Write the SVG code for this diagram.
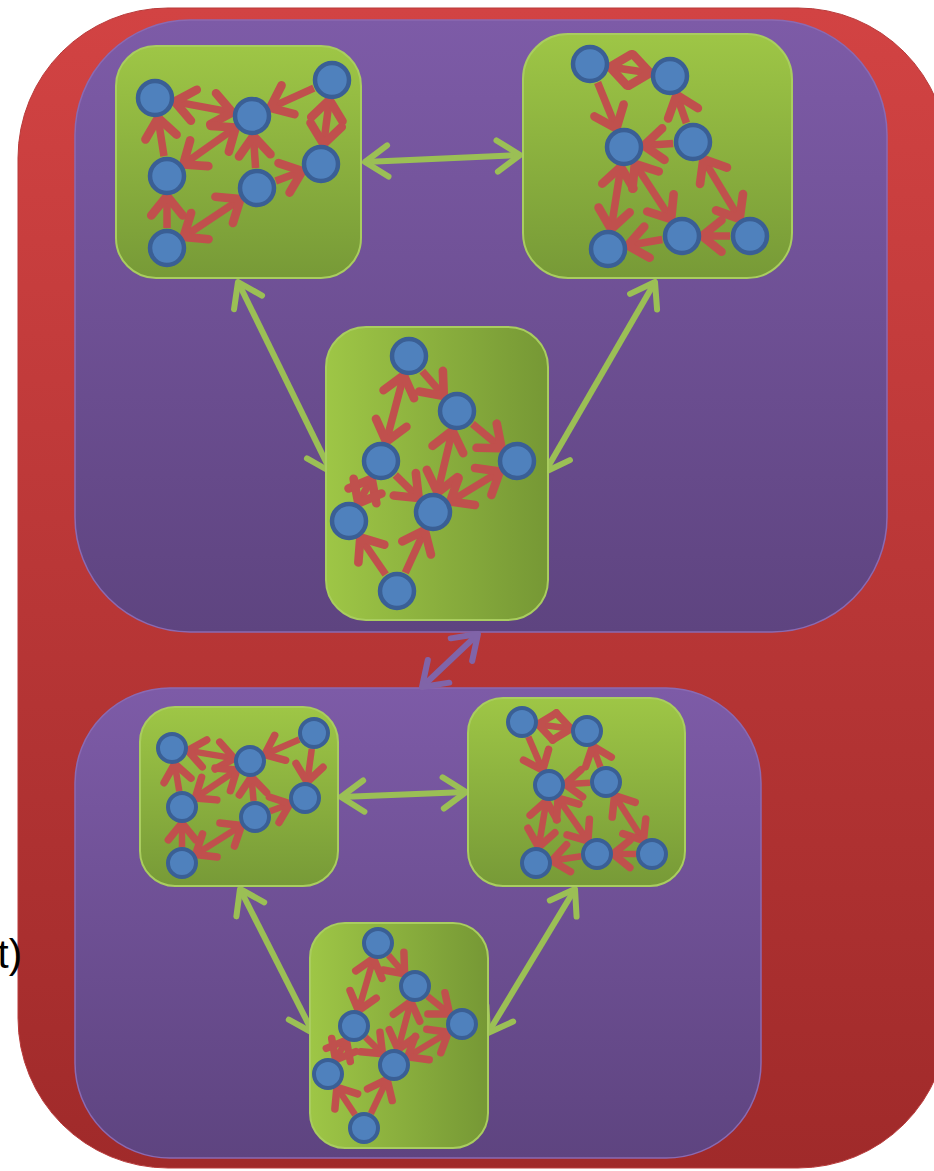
<svg xmlns="http://www.w3.org/2000/svg" width="934" height="1171" viewBox="0 0 934 1171">
<defs>
<linearGradient id="gRed" x1="0" y1="0" x2="0" y2="1"><stop offset="0" stop-color="#d24343"/><stop offset="1" stop-color="#a02a2a"/></linearGradient>
<linearGradient id="gPur" x1="0" y1="0" x2="0" y2="1"><stop offset="0" stop-color="#7d5ba7"/><stop offset="1" stop-color="#5e4480"/></linearGradient>
<linearGradient id="gGrV" x1="0" y1="0" x2="0" y2="1"><stop offset="0" stop-color="#9ec646"/><stop offset="1" stop-color="#779a37"/></linearGradient>
<linearGradient id="gGrH" x1="0" y1="0" x2="1" y2="0"><stop offset="0" stop-color="#9ec646"/><stop offset="1" stop-color="#769835"/></linearGradient>
<marker id="rh" markerUnits="strokeWidth" orient="auto-start-reverse" overflow="visible" refX="0" refY="0" markerWidth="1" markerHeight="1">
<path d="M-2.6,-2.1 L0,0 L-2.6,2.1" fill="none" stroke="#c0504d" stroke-width="1.15" stroke-linejoin="round" stroke-linecap="round"/>
</marker>
<marker id="gh" markerUnits="strokeWidth" orient="auto-start-reverse" overflow="visible" refX="0" refY="0" markerWidth="1" markerHeight="1">
<path d="M-3.8,-2.6 L0,0 L-3.8,2.6" fill="none" stroke="#9bbf55" stroke-width="1" stroke-linejoin="round" stroke-linecap="round"/>
</marker>
<marker id="ph" markerUnits="strokeWidth" orient="auto-start-reverse" overflow="visible" refX="0" refY="0" markerWidth="1" markerHeight="1">
<path d="M-3.8,-2.6 L0,0 L-3.8,2.6" fill="none" stroke="#8064a8" stroke-width="1" stroke-linejoin="round" stroke-linecap="round"/>
</marker>
</defs>
<style>
.panel{fill:url(#gPur);stroke:#8a6ab3;stroke-width:1.5}
.boxV{fill:url(#gGrV);stroke:#a9cd5f;stroke-width:2}
.boxH{fill:url(#gGrH);stroke:#a9cd5f;stroke-width:2}
.n{fill:#4f81bd;stroke:#3a5f95;stroke-width:4.5}
.ns{fill:#4f81bd;stroke:#3a5f95;stroke-width:4}
.e{stroke:#c0504d;stroke-width:7.5;fill:none;marker-end:url(#rh)}
.es{stroke:#c0504d;stroke-width:6.5;fill:none;marker-end:url(#rh)}
.d{marker-start:url(#rh)}
.gc{stroke:#9bbf55;stroke-width:6;fill:none;marker-start:url(#gh);marker-end:url(#gh)}
.pc{stroke:#8064a8;stroke-width:6;fill:none;marker-start:url(#ph);marker-end:url(#ph)}
</style>
<rect x="18" y="8" width="930" height="1160" rx="150" fill="url(#gRed)" stroke="#b83a3a" stroke-width="1"/>
<text x="22" y="968" text-anchor="end" font-family="Liberation Sans, Arial, sans-serif" font-size="40" fill="#000">t)</text>
<g id="panel-top"><rect class="panel" x="75" y="20" width="812" height="612" rx="115"/></g>
<g id="panel-bottom"><rect class="panel" x="75" y="688" width="686" height="470" rx="95"/></g>
<g id="connectors">
<line class="pc" x1="422" y1="687" x2="478" y2="634"/>
<line class="gc" x1="365" y1="162" x2="520" y2="155"/>
<line class="gc" x1="238" y1="282" x2="331" y2="472"/>
<line class="gc" x1="655" y1="282" x2="545" y2="472"/>
<line class="gc" x1="341" y1="797" x2="466" y2="792"/>
<line class="gc" x1="240" y1="889" x2="313" y2="1033"/>
<line class="gc" x1="575" y1="889" x2="488" y2="1033"/>
</g>
<g id="box-top-left">
<rect class="boxV" x="116" y="46" width="245" height="232" rx="40"/>
<line class="e d" x1="174.7" y1="101.6" x2="232.3" y2="112.4"/>
<line class="e" x1="164" y1="156.2" x2="158" y2="117.8"/>
<line class="e d" x1="235.7" y1="127.5" x2="183.3" y2="164.5"/>
<line class="e" x1="313.8" y1="88.2" x2="270.2" y2="107.8"/>
<line class="e d" x1="329.4" y1="99.8" x2="323.6" y2="144.2"/>
<line class="e" x1="255.6" y1="168.1" x2="253.4" y2="135.9"/>
<line class="e" x1="275.7" y1="181" x2="302.3" y2="171"/>
<line class="e" x1="167" y1="228" x2="167" y2="196"/>
<line class="e d" x1="240.4" y1="199.1" x2="183.6" y2="236.9"/>
<g id="tl-n1"><circle class="n" cx="155" cy="98" r="17"/></g>
<g id="tl-n2"><circle class="n" cx="252" cy="116" r="17"/></g>
<g id="tl-n3"><circle class="n" cx="332" cy="80" r="17"/></g>
<g id="tl-n4"><circle class="n" cx="167" cy="176" r="17"/></g>
<g id="tl-n5"><circle class="n" cx="257" cy="188" r="17"/></g>
<g id="tl-n6"><circle class="n" cx="321" cy="164" r="17"/></g>
<g id="tl-n7"><circle class="n" cx="167" cy="248" r="17"/></g>
</g>
<g id="box-top-right">
<rect class="boxV" x="523" y="34" width="269" height="244" rx="45"/>
<line class="e d" x1="609.8" y1="67" x2="650.2" y2="73"/>
<line class="e" x1="597.6" y1="82.5" x2="616.4" y2="128.5"/>
<line class="e" x1="686.4" y1="123.1" x2="676.6" y2="94.9"/>
<line class="e" x1="673.1" y1="143.4" x2="643.9" y2="145.6"/>
<line class="e d" x1="620.9" y1="166.8" x2="611.1" y2="229.2"/>
<line class="e d" x1="634.9" y1="163.8" x2="671.1" y2="219.2"/>
<line class="e d" x1="703.4" y1="159.1" x2="739.6" y2="218.9"/>
<line class="e" x1="662.3" y1="239.5" x2="627.7" y2="245.5"/>
<line class="e" x1="730" y1="236" x2="702" y2="236"/>
<g id="tr-n1"><circle class="n" cx="590" cy="64" r="17"/></g>
<g id="tr-n2"><circle class="n" cx="670" cy="76" r="17"/></g>
<g id="tr-n3"><circle class="n" cx="624" cy="147" r="17"/></g>
<g id="tr-n4"><circle class="n" cx="693" cy="142" r="17"/></g>
<g id="tr-n5"><circle class="n" cx="608" cy="249" r="17"/></g>
<g id="tr-n6"><circle class="n" cx="682" cy="236" r="17"/></g>
<g id="tr-n7"><circle class="n" cx="750" cy="236" r="17"/></g>
</g>
<g id="box-top-middle">
<rect class="boxH" x="326" y="327" width="222" height="293" rx="40"/>
<line class="e" x1="422.2" y1="371.1" x2="443.8" y2="395.9"/>
<line class="e d" x1="403.8" y1="375.3" x2="386.2" y2="441.7"/>
<line class="e" x1="472.4" y1="423.8" x2="501.6" y2="448.2"/>
<line class="e d" x1="437.6" y1="492.5" x2="452.4" y2="430.5"/>
<line class="e d" x1="450.1" y1="501.6" x2="499.9" y2="471.4"/>
<line class="e" x1="395.3" y1="475" x2="418.7" y2="498"/>
<line class="e d" x1="371.6" y1="478.6" x2="358.4" y2="503.4"/>
<line class="e" x1="385.7" y1="574.5" x2="360.3" y2="537.5"/>
<line class="e" x1="405.3" y1="572.8" x2="424.7" y2="530.2"/>
<g id="tm-n1"><circle class="n" cx="409" cy="356" r="17"/></g>
<g id="tm-n2"><circle class="n" cx="457" cy="411" r="17"/></g>
<g id="tm-n3"><circle class="n" cx="381" cy="461" r="17"/></g>
<g id="tm-n4"><circle class="n" cx="517" cy="461" r="17"/></g>
<g id="tm-n5"><circle class="n" cx="349" cy="521" r="17"/></g>
<g id="tm-n6"><circle class="n" cx="433" cy="512" r="17"/></g>
<g id="tm-n7"><circle class="n" cx="397" cy="591" r="17"/></g>
</g>
<g id="box-bottom-left">
<rect class="boxV" x="140" y="707" width="198" height="179" rx="35"/>
<line class="es d" x1="187.8" y1="750.6" x2="234.2" y2="758.4"/>
<line class="es" x1="179.3" y1="791.2" x2="174.7" y2="763.8"/>
<line class="es d" x1="236.8" y1="770" x2="195.2" y2="798"/>
<line class="es" x1="299.3" y1="739.4" x2="264.7" y2="754.6"/>
<line class="es" x1="311.8" y1="748.9" x2="307.2" y2="782.1"/>
<line class="es" x1="253.6" y1="801.1" x2="251.4" y2="776.9"/>
<line class="es" x1="270" y1="811.3" x2="290" y2="803.7"/>
<line class="es" x1="182" y1="847" x2="182" y2="823"/>
<line class="es d" x1="241.5" y1="825.5" x2="195.5" y2="854.5"/>
<g id="bl-n1"><circle class="ns" cx="172" cy="748" r="14"/></g>
<g id="bl-n2"><circle class="ns" cx="250" cy="761" r="14"/></g>
<g id="bl-n3"><circle class="ns" cx="314" cy="733" r="14"/></g>
<g id="bl-n4"><circle class="ns" cx="182" cy="807" r="14"/></g>
<g id="bl-n5"><circle class="ns" cx="255" cy="817" r="14"/></g>
<g id="bl-n6"><circle class="ns" cx="305" cy="798" r="14"/></g>
<g id="bl-n7"><circle class="ns" cx="182" cy="863" r="14"/></g>
</g>
<g id="box-bottom-right">
<rect class="boxV" x="468" y="698" width="217" height="188" rx="35"/>
<line class="es d" x1="537.9" y1="724.2" x2="571.1" y2="728.8"/>
<line class="es" x1="528.3" y1="736.7" x2="542.7" y2="770.3"/>
<line class="es" x1="600.4" y1="767" x2="592.6" y2="746"/>
<line class="es" x1="590" y1="782.8" x2="565" y2="784.2"/>
<line class="es d" x1="546.4" y1="800.8" x2="538.6" y2="847.2"/>
<line class="es d" x1="558.1" y1="798.1" x2="587.9" y2="840.9"/>
<line class="es d" x1="614.6" y1="795.5" x2="643.4" y2="840.5"/>
<line class="es" x1="581.2" y1="856.3" x2="551.8" y2="860.7"/>
<line class="es" x1="636" y1="854" x2="613" y2="854"/>
<g id="br-n1"><circle class="ns" cx="522" cy="722" r="14"/></g>
<g id="br-n2"><circle class="ns" cx="587" cy="731" r="14"/></g>
<g id="br-n3"><circle class="ns" cx="549" cy="785" r="14"/></g>
<g id="br-n4"><circle class="ns" cx="606" cy="782" r="14"/></g>
<g id="br-n5"><circle class="ns" cx="536" cy="863" r="14"/></g>
<g id="br-n6"><circle class="ns" cx="597" cy="854" r="14"/></g>
<g id="br-n7"><circle class="ns" cx="652" cy="854" r="14"/></g>
</g>
<g id="box-bottom-middle">
<rect class="boxH" x="310" y="923" width="178" height="225" rx="35"/>
<line class="es" x1="388.4" y1="955.1" x2="404.6" y2="973.9"/>
<line class="es d" x1="373.6" y1="958.4" x2="358.4" y2="1010.6"/>
<line class="es" x1="427.4" y1="996.1" x2="449.6" y2="1013.9"/>
<line class="es d" x1="398.1" y1="1049.5" x2="410.9" y2="1001.5"/>
<line class="es d" x1="407.7" y1="1056.7" x2="448.3" y2="1032.3"/>
<line class="es" x1="365.5" y1="1037.2" x2="382.5" y2="1053.8"/>
<line class="es d" x1="346.4" y1="1040.1" x2="335.6" y2="1059.9"/>
<line class="es" x1="355.1" y1="1114.7" x2="336.9" y2="1087.3"/>
<line class="es" x1="370.9" y1="1113.6" x2="387.1" y2="1079.4"/>
<g id="bm-n1"><circle class="ns" cx="378" cy="943" r="14"/></g>
<g id="bm-n2"><circle class="ns" cx="415" cy="986" r="14"/></g>
<g id="bm-n3"><circle class="ns" cx="354" cy="1026" r="14"/></g>
<g id="bm-n4"><circle class="ns" cx="462" cy="1024" r="14"/></g>
<g id="bm-n5"><circle class="ns" cx="328" cy="1074" r="14"/></g>
<g id="bm-n6"><circle class="ns" cx="394" cy="1065" r="14"/></g>
<g id="bm-n7"><circle class="ns" cx="364" cy="1128" r="14"/></g>
</g>
</svg>
